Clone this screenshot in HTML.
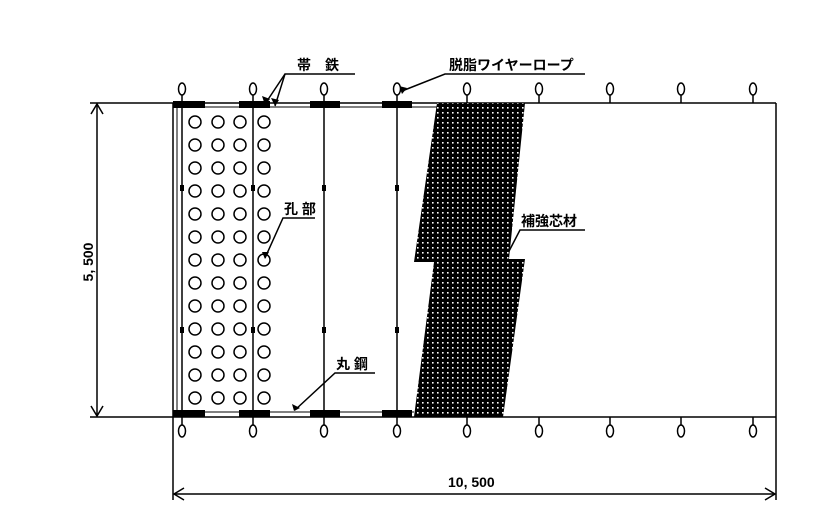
<!DOCTYPE html>
<html><head><meta charset="utf-8"><style>body{margin:0;background:#fff}svg{display:block}text{font-family:"Liberation Sans","Noto Sans CJK JP",sans-serif;font-weight:bold;font-size:14px;fill:#000}</style></head><body>
<svg width="836" height="521" viewBox="0 0 836 521" xmlns="http://www.w3.org/2000/svg">
<defs>
<pattern id="m" width="5" height="5" patternUnits="userSpaceOnUse"><rect width="5" height="5" fill="#000"/><rect x="2" y="2" width="1.6" height="1.6" fill="#fff"/></pattern>
</defs>
<g stroke="#000" fill="none" stroke-width="1.5">
<line x1="90" y1="103" x2="776" y2="103"/>
<line x1="173" y1="107" x2="437" y2="107" stroke-width="1"/>
<line x1="90" y1="417" x2="776" y2="417"/>
<line x1="173" y1="412" x2="414" y2="412" stroke-width="1"/>
<line x1="776" y1="103" x2="776" y2="500"/>
<line x1="173" y1="103" x2="173" y2="500"/>
<line x1="177" y1="107" x2="177" y2="412" stroke-width="1"/>
<line x1="182" y1="95" x2="182" y2="425"/>
<line x1="253" y1="95" x2="253" y2="425"/>
<line x1="324" y1="95" x2="324" y2="425"/>
<line x1="397" y1="95" x2="397" y2="425"/>
<line x1="467" y1="95" x2="467" y2="103"/><line x1="539" y1="95" x2="539" y2="103"/><line x1="610" y1="95" x2="610" y2="103"/><line x1="681" y1="95" x2="681" y2="103"/><line x1="753" y1="95" x2="753" y2="103"/>
<line x1="467" y1="417" x2="467" y2="425"/><line x1="539" y1="417" x2="539" y2="425"/><line x1="610" y1="417" x2="610" y2="425"/><line x1="681" y1="417" x2="681" y2="425"/><line x1="753" y1="417" x2="753" y2="425"/>
<line x1="97" y1="104" x2="97" y2="416"/>
<path d="M91,114 L97,104 L103,114 M91,406 L97,416 L103,406"/>
<line x1="174" y1="494" x2="775" y2="494"/>
<path d="M184,488 L174,494 L184,500 M765,488 L775,494 L765,500"/>
<path d="M355,74 L285,74 L265,104"/><path d="M285,74 L275,106"/>
<path d="M585,74 L445,74 L402,91"/>
<path d="M585,230 L520,230 L506,257"/>
<path d="M315,218 L283,218 L265,258"/>
<path d="M375,373 L335,373 L295,410"/>
</g>
<g fill="#000">
<path d="M262,96 L265,105 L270,99Z M271,98 L275,106 L279,100Z M399,86 L407,88 L402,94Z M501,252 L506,258 L508,250Z M262,252 L265,259 L269,252Z M292,404 L294,411 L300,408Z"/>
</g>
<polygon points="437,103 525,103 509,259 525,259 503,417 414,417 434,262 414,262" fill="url(#m)"/>
<g fill="#000">
<rect x="173" y="101" width="32" height="7"/><rect x="239" y="101" width="31" height="7"/><rect x="310" y="101" width="30" height="7"/><rect x="382" y="101" width="30" height="7"/>
<rect x="173" y="410" width="32" height="7"/><rect x="239" y="410" width="31" height="7"/><rect x="310" y="410" width="30" height="7"/><rect x="382" y="410" width="30" height="7"/>
<rect x="180" y="185" width="4" height="6"/><rect x="251" y="185" width="4" height="6"/><rect x="322" y="185" width="4" height="6"/><rect x="395" y="185" width="4" height="6"/>
<rect x="180" y="327" width="4" height="6"/><rect x="251" y="327" width="4" height="6"/><rect x="322" y="327" width="4" height="6"/><rect x="395" y="327" width="4" height="6"/>
</g>
<g stroke="#000" fill="#fff" stroke-width="1.5">
<ellipse cx="182" cy="89" rx="3.5" ry="6"/><ellipse cx="253" cy="89" rx="3.5" ry="6"/><ellipse cx="324" cy="89" rx="3.5" ry="6"/><ellipse cx="397" cy="89" rx="3.5" ry="6"/><ellipse cx="467" cy="89" rx="3.5" ry="6"/><ellipse cx="539" cy="89" rx="3.5" ry="6"/><ellipse cx="610" cy="89" rx="3.5" ry="6"/><ellipse cx="681" cy="89" rx="3.5" ry="6"/><ellipse cx="753" cy="89" rx="3.5" ry="6"/>
<ellipse cx="182" cy="431" rx="3.5" ry="6"/><ellipse cx="253" cy="431" rx="3.5" ry="6"/><ellipse cx="324" cy="431" rx="3.5" ry="6"/><ellipse cx="397" cy="431" rx="3.5" ry="6"/><ellipse cx="467" cy="431" rx="3.5" ry="6"/><ellipse cx="539" cy="431" rx="3.5" ry="6"/><ellipse cx="610" cy="431" rx="3.5" ry="6"/><ellipse cx="681" cy="431" rx="3.5" ry="6"/><ellipse cx="753" cy="431" rx="3.5" ry="6"/>
</g>
<g stroke="#000" fill="none" stroke-width="1.5">
<circle cx="195" cy="122" r="6"/><circle cx="218" cy="122" r="6"/><circle cx="240" cy="122" r="6"/><circle cx="264" cy="122" r="6"/>
<circle cx="195" cy="145" r="6"/><circle cx="218" cy="145" r="6"/><circle cx="240" cy="145" r="6"/><circle cx="264" cy="145" r="6"/>
<circle cx="195" cy="168" r="6"/><circle cx="218" cy="168" r="6"/><circle cx="240" cy="168" r="6"/><circle cx="264" cy="168" r="6"/>
<circle cx="195" cy="191" r="6"/><circle cx="218" cy="191" r="6"/><circle cx="240" cy="191" r="6"/><circle cx="264" cy="191" r="6"/>
<circle cx="195" cy="214" r="6"/><circle cx="218" cy="214" r="6"/><circle cx="240" cy="214" r="6"/><circle cx="264" cy="214" r="6"/>
<circle cx="195" cy="237" r="6"/><circle cx="218" cy="237" r="6"/><circle cx="240" cy="237" r="6"/><circle cx="264" cy="237" r="6"/>
<circle cx="195" cy="260" r="6"/><circle cx="218" cy="260" r="6"/><circle cx="240" cy="260" r="6"/><circle cx="264" cy="260" r="6"/>
<circle cx="195" cy="283" r="6"/><circle cx="218" cy="283" r="6"/><circle cx="240" cy="283" r="6"/><circle cx="264" cy="283" r="6"/>
<circle cx="195" cy="306" r="6"/><circle cx="218" cy="306" r="6"/><circle cx="240" cy="306" r="6"/><circle cx="264" cy="306" r="6"/>
<circle cx="195" cy="329" r="6"/><circle cx="218" cy="329" r="6"/><circle cx="240" cy="329" r="6"/><circle cx="264" cy="329" r="6"/>
<circle cx="195" cy="352" r="6"/><circle cx="218" cy="352" r="6"/><circle cx="240" cy="352" r="6"/><circle cx="264" cy="352" r="6"/>
<circle cx="195" cy="375" r="6"/><circle cx="218" cy="375" r="6"/><circle cx="240" cy="375" r="6"/><circle cx="264" cy="375" r="6"/>
<circle cx="195" cy="398" r="6"/><circle cx="218" cy="398" r="6"/><circle cx="240" cy="398" r="6"/><circle cx="264" cy="398" r="6"/>
</g>
<text x="297" y="70">帯　鉄</text>
<text x="449" y="70">脱脂ワイヤーロープ</text>
<text x="521" y="226">補強芯材</text>
<text x="284" y="214">孔 部</text>
<text x="336" y="369">丸 鋼</text>
<text x="448" y="487" font-weight="normal" font-size="15">10, 500</text>
<text transform="translate(93,262) rotate(-90)" text-anchor="middle" font-weight="normal" font-size="15">5, 500</text>
</svg>
</body></html>
